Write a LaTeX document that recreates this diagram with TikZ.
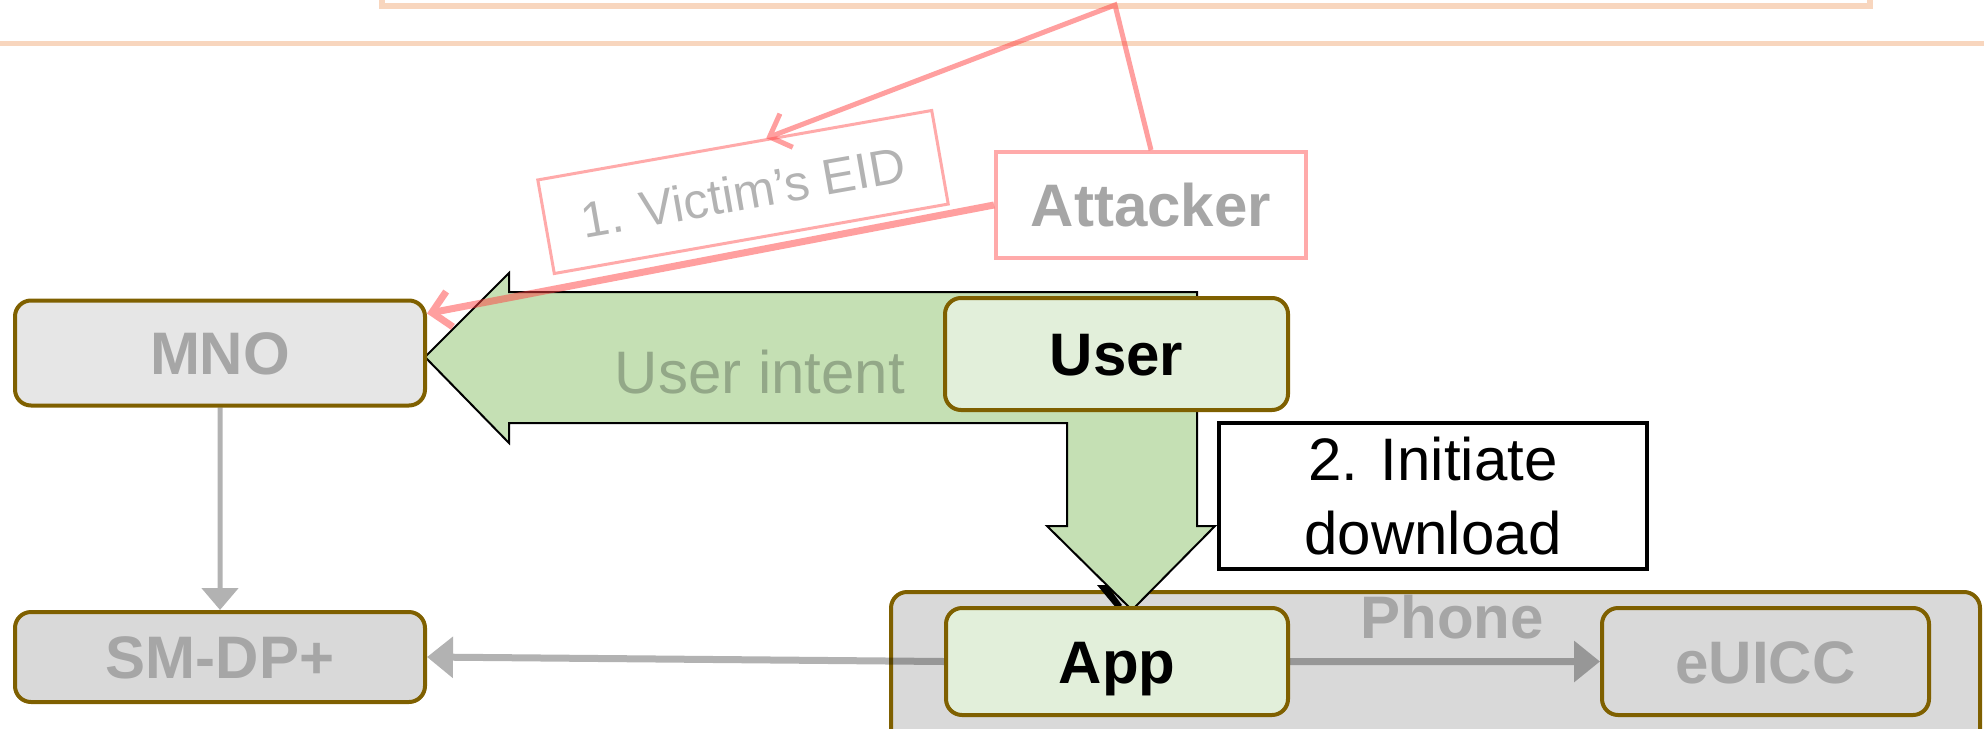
\documentclass[tikz,border=0pt]{standalone}
\usepackage{fontspec}
\setmainfont{Liberation Sans}
\usetikzlibrary{arrows.meta,calc}

\definecolor{brownc}{HTML}{7F6000}
\definecolor{mnofill}{HTML}{E6E6E6}
\definecolor{greyfill}{HTML}{D9D9D9}
\definecolor{lightgreen}{HTML}{E2EFDA}
\definecolor{arrowgreen}{HTML}{C5E0B4}
\definecolor{labgray}{HTML}{A6A6A6}
\definecolor{softgray}{HTML}{B3B3B3}
\definecolor{intentgray}{HTML}{93A888}
\definecolor{peach}{HTML}{F8D6BE}
\definecolor{pinkline}{HTML}{FF4040}
\definecolor{pinkbox}{HTML}{FFAAAA}

\newcommand\bigfont{\fontsize{30}{37}\selectfont}
\newcommand\smallerfont{\fontsize{25}{30}\selectfont}

\tikzset{
  entity/.style={draw=brownc, line width=2pt, rounded corners=8pt, inner sep=0pt,
    font=\bigfont\bfseries, text height=21.5pt, text depth=0pt},
  graybox/.style={entity, fill=greyfill, text=labgray},
  greenbox/.style={entity, fill=lightgreen, text=black},
  flow/.style={draw=black, line width=3.5pt,
    -{Triangle[length=13pt,width=20pt]}},
  thinflow/.style={draw=black, line width=2.5pt,
    -{Triangle[length=11pt,width=18pt]}},
  attack/.style={draw=pinkline,
    -{Straight Barb[length=9pt,width=18pt]}},
  bigarrow/.style={draw=black, line width=1pt, fill=arrowgreen, line join=miter},
}

\begin{document}
\begin{tikzpicture}[x=0.5pt, y=-0.5pt]
  \path[use as bounding box] (0,0) rectangle (1984,728);
  \clip (0,0) rectangle (1984,728);

  % frame of the panel above
  \draw[peach, line width=3pt] (382,-10) -- (382,6) -- (1870,6) -- (1870,-10);
  \draw[peach, line width=2.5pt] (0,43) -- (1984,43);

  % phone container
  \node[graybox, minimum width=544.5pt, minimum height=94pt] (phone) at (1435.5,686) {};
  \node[font=\bigfont\bfseries, text=labgray, anchor=base, inner sep=0pt] (phonelbl) at (1452,638) {Phone};

  % tip of a hidden connector peeking out below the big arrow
  \fill[black] (1097,585) -- (1107,585) -- (1122,605) -- (1117,609) -- cycle;

  % bent block arrow: user intent towards MNO and App
  \draw[bigarrow] (425,357) -- (509,273) -- (509,292) -- (1197,292) -- (1197,526)
    -- (1215,526) -- (1132,610) -- (1047,526) -- (1067,526) -- (1067,423)
    -- (509,423) -- (509,443) -- cycle;
  \node[font=\bigfont, text=intentgray, anchor=base, inner sep=0pt] (intent) at (760,393) {User intent};

  % entities
  \node[entity, fill=mnofill, text=labgray, minimum width=205pt, minimum height=52.5pt] (mno) at (220,353) {MNO};
  \node[graybox, minimum width=205pt, minimum height=45pt] (smdp) at (220,657) {SM-DP+};
  \node[greenbox, minimum width=171.5pt, minimum height=56pt] (user) at (1116.5,354) {User};
  \node[greenbox, minimum width=171pt, minimum height=53.5pt] (app) at (1117,661.5) {App};
  \node[graybox, minimum width=163.5pt, minimum height=53.5pt] (euicc) at (1765.5,661.5) {eUICC};

  % flows, see-through grey
  \begin{scope}[transparency group, opacity=0.3]
    \draw[thinflow] (mno) -- (smdp);
    \draw[flow] (app.west) -- (smdp.east);
    \draw[flow] (app.east) -- (euicc.west);
  \end{scope}

  % step 2
  \node[draw=black, line width=2pt, fill=white, minimum width=214pt, minimum height=73pt,
        inner sep=0pt, align=center, font=\bigfont] (initiate) at (1433,496) {2. Initiate\\download};

  % attacker and step 1
  \node[draw=pinkbox, line width=2pt, fill=white, minimum width=155pt, minimum height=53pt,
        inner sep=0pt, font=\bigfont\bfseries, text=labgray, text height=21.5pt, text depth=0pt]
        (attacker) at (1151,205) {Attacker};
  \node[draw=pinkbox, line width=1.5pt, rotate=10, minimum width=200pt, minimum height=47.5pt,
        inner sep=0pt, font=\smallerfont, text=softgray, text height=18pt, text depth=0pt]
        (victim) at (743,192) {1. Victim’s EID};

  \coordinate (tap) at (1115,5);
  \begin{scope}[transparency group, opacity=0.5]
    \draw[attack, line width=2.5pt] (attacker.north) -- (tap)
      -- ($(victim.north west)!0.58!(victim.north east)$);
    \draw[attack, line width=3.5pt] (attacker.west) -- (mno);
  \end{scope}
\end{tikzpicture}
\end{document}
